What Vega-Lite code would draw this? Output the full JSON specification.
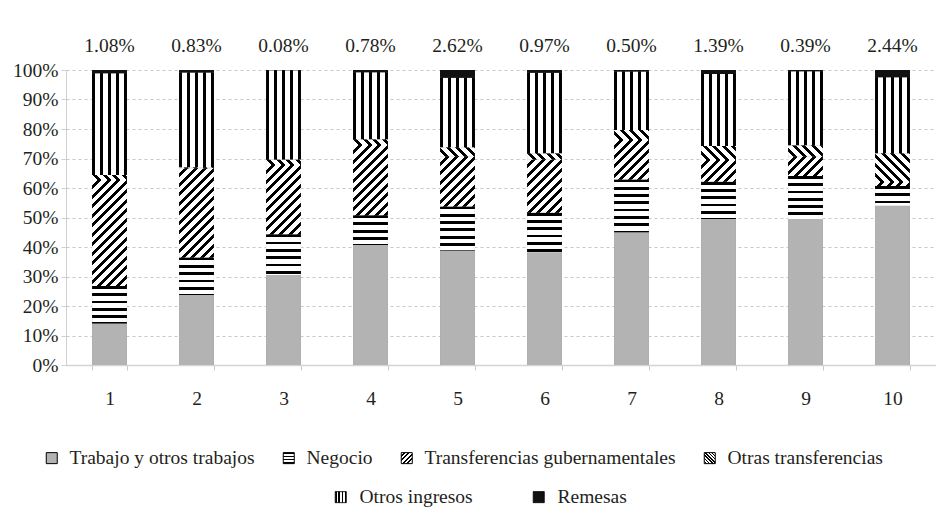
{
  "$schema": "https://vega.github.io/schema/vega-lite/v6.json",
  "width": 870,
  "height": 295,
  "autosize": {"type": "none"},
  "padding": {"left": 66, "top": 70, "right": 0, "bottom": 149},
  "background": "white",
  "config": {
    "font": "Liberation Serif",
    "view": {"stroke": null},
    "axis": {"labelFont": "Liberation Serif", "labelFontSize": 19.5, "labelColor": "#231f20", "title": null},
    "axisY": {"values": [0,0.1,0.2,0.3,0.4,0.5,0.6,0.7,0.8,0.9,1], "format": ".0%", "grid": true, "gridDash": [3,3], "gridColor": "#c8c8c8", "domainColor": "#d0d0d0", "tickColor": "#d0d0d0", "tickSize": 5, "labelPadding": 3},
    "legend": {"labelFont": "Liberation Serif", "labelFontSize": 19.5, "labelColor": "#231f20", "labelLimit": 500}
  },
  "params": [
    {"name": "sD", "value": [
      {"offset":0,"color":"#fff"},{"offset":0.03625,"color":"#fff"},{"offset":0.03625,"color":"#000"},{"offset":0.0625,"color":"#000"},
      {"offset":0.0625,"color":"#fff"},{"offset":0.09875,"color":"#fff"},{"offset":0.09875,"color":"#000"},{"offset":0.125,"color":"#000"},
      {"offset":0.125,"color":"#fff"},{"offset":0.16125,"color":"#fff"},{"offset":0.16125,"color":"#000"},{"offset":0.1875,"color":"#000"},
      {"offset":0.1875,"color":"#fff"},{"offset":0.22375,"color":"#fff"},{"offset":0.22375,"color":"#000"},{"offset":0.25,"color":"#000"},
      {"offset":0.25,"color":"#fff"},{"offset":0.28625,"color":"#fff"},{"offset":0.28625,"color":"#000"},{"offset":0.3125,"color":"#000"},
      {"offset":0.3125,"color":"#fff"},{"offset":0.34875,"color":"#fff"},{"offset":0.34875,"color":"#000"},{"offset":0.375,"color":"#000"},
      {"offset":0.375,"color":"#fff"},{"offset":0.41125,"color":"#fff"},{"offset":0.41125,"color":"#000"},{"offset":0.4375,"color":"#000"},
      {"offset":0.4375,"color":"#fff"},{"offset":0.47375,"color":"#fff"},{"offset":0.47375,"color":"#000"},{"offset":0.5,"color":"#000"},
      {"offset":0.5,"color":"#fff"},{"offset":0.53625,"color":"#fff"},{"offset":0.53625,"color":"#000"},{"offset":0.5625,"color":"#000"},
      {"offset":0.5625,"color":"#fff"},{"offset":0.59875,"color":"#fff"},{"offset":0.59875,"color":"#000"},{"offset":0.625,"color":"#000"},
      {"offset":0.625,"color":"#fff"},{"offset":0.66125,"color":"#fff"},{"offset":0.66125,"color":"#000"},{"offset":0.6875,"color":"#000"},
      {"offset":0.6875,"color":"#fff"},{"offset":0.72375,"color":"#fff"},{"offset":0.72375,"color":"#000"},{"offset":0.75,"color":"#000"},
      {"offset":0.75,"color":"#fff"},{"offset":0.78625,"color":"#fff"},{"offset":0.78625,"color":"#000"},{"offset":0.8125,"color":"#000"},
      {"offset":0.8125,"color":"#fff"},{"offset":0.84875,"color":"#fff"},{"offset":0.84875,"color":"#000"},{"offset":0.875,"color":"#000"},
      {"offset":0.875,"color":"#fff"},{"offset":0.91125,"color":"#fff"},{"offset":0.91125,"color":"#000"},{"offset":0.9375,"color":"#000"},
      {"offset":0.9375,"color":"#fff"},{"offset":0.97375,"color":"#fff"},{"offset":0.97375,"color":"#000"},{"offset":1,"color":"#000"}
    ]},
    {"name": "sH", "value": [
      {"offset":0,"color":"#000"},{"offset":0.04222,"color":"#000"},{"offset":0.04222,"color":"#fff"},{"offset":0.11111,"color":"#fff"},
      {"offset":0.11111,"color":"#000"},{"offset":0.15333,"color":"#000"},{"offset":0.15333,"color":"#fff"},{"offset":0.22222,"color":"#fff"},
      {"offset":0.22222,"color":"#000"},{"offset":0.26444,"color":"#000"},{"offset":0.26444,"color":"#fff"},{"offset":0.33333,"color":"#fff"},
      {"offset":0.33333,"color":"#000"},{"offset":0.37556,"color":"#000"},{"offset":0.37556,"color":"#fff"},{"offset":0.44444,"color":"#fff"},
      {"offset":0.44444,"color":"#000"},{"offset":0.48667,"color":"#000"},{"offset":0.48667,"color":"#fff"},{"offset":0.55556,"color":"#fff"},
      {"offset":0.55556,"color":"#000"},{"offset":0.59778,"color":"#000"},{"offset":0.59778,"color":"#fff"},{"offset":0.66667,"color":"#fff"},
      {"offset":0.66667,"color":"#000"},{"offset":0.70889,"color":"#000"},{"offset":0.70889,"color":"#fff"},{"offset":0.77778,"color":"#fff"},
      {"offset":0.77778,"color":"#000"},{"offset":0.82,"color":"#000"},{"offset":0.82,"color":"#fff"},{"offset":0.88889,"color":"#fff"},
      {"offset":0.88889,"color":"#000"},{"offset":0.93111,"color":"#000"},{"offset":0.93111,"color":"#fff"},{"offset":1,"color":"#fff"}
    ]},
    {"name": "sV", "value": [
      {"offset":0,"color":"#000"},{"offset":0.09,"color":"#000"},{"offset":0.09,"color":"#fff"},{"offset":0.2275,"color":"#fff"},
      {"offset":0.2275,"color":"#000"},{"offset":0.3175,"color":"#000"},{"offset":0.3175,"color":"#fff"},{"offset":0.455,"color":"#fff"},
      {"offset":0.455,"color":"#000"},{"offset":0.545,"color":"#000"},{"offset":0.545,"color":"#fff"},{"offset":0.6825,"color":"#fff"},
      {"offset":0.6825,"color":"#000"},{"offset":0.7725,"color":"#000"},{"offset":0.7725,"color":"#fff"},{"offset":0.91,"color":"#fff"},
      {"offset":0.91,"color":"#000"},{"offset":1,"color":"#000"}
    ]},
    {"name": "sLH", "value": [
      {"offset":0,"color":"#000"},{"offset":0.14,"color":"#000"},{"offset":0.14,"color":"#fff"},{"offset":0.3,"color":"#fff"},
      {"offset":0.3,"color":"#000"},{"offset":0.43,"color":"#000"},{"offset":0.43,"color":"#fff"},{"offset":0.57,"color":"#fff"},
      {"offset":0.57,"color":"#000"},{"offset":0.7,"color":"#000"},{"offset":0.7,"color":"#fff"},{"offset":0.86,"color":"#fff"},
      {"offset":0.86,"color":"#000"},{"offset":1,"color":"#000"}
    ]},
    {"name": "sLV", "value": [
      {"offset":0,"color":"#000"},{"offset":0.15,"color":"#000"},{"offset":0.15,"color":"#fff"},{"offset":0.29,"color":"#fff"},
      {"offset":0.29,"color":"#000"},{"offset":0.43,"color":"#000"},{"offset":0.43,"color":"#fff"},{"offset":0.57,"color":"#fff"},
      {"offset":0.57,"color":"#000"},{"offset":0.71,"color":"#000"},{"offset":0.71,"color":"#fff"},{"offset":0.85,"color":"#fff"},
      {"offset":0.85,"color":"#000"},{"offset":1,"color":"#000"}
    ]}
  ],
  "data": {"values": [
    {"decil": 1, "fuente": "Trabajo y otros trabajos", "valor": 0.141},
    {"decil": 1, "fuente": "Negocio", "valor": 0.127},
    {"decil": 1, "fuente": "Transferencias gubernamentales", "valor": 0.359},
    {"decil": 1, "fuente": "Otras transferencias", "valor": 0.017},
    {"decil": 1, "fuente": "Otros ingresos", "valor": 0.3452},
    {"decil": 1, "fuente": "Remesas", "valor": 0.0108},
    {"decil": 2, "fuente": "Trabajo y otros trabajos", "valor": 0.237},
    {"decil": 2, "fuente": "Negocio", "valor": 0.127},
    {"decil": 2, "fuente": "Transferencias gubernamentales", "valor": 0.303},
    {"decil": 2, "fuente": "Otras transferencias", "valor": 0.003},
    {"decil": 2, "fuente": "Otros ingresos", "valor": 0.3217},
    {"decil": 2, "fuente": "Remesas", "valor": 0.0083},
    {"decil": 3, "fuente": "Trabajo y otros trabajos", "valor": 0.305},
    {"decil": 3, "fuente": "Negocio", "valor": 0.138},
    {"decil": 3, "fuente": "Transferencias gubernamentales", "valor": 0.235},
    {"decil": 3, "fuente": "Otras transferencias", "valor": 0.019},
    {"decil": 3, "fuente": "Otros ingresos", "valor": 0.3022},
    {"decil": 3, "fuente": "Remesas", "valor": 0.0008},
    {"decil": 4, "fuente": "Trabajo y otros trabajos", "valor": 0.407},
    {"decil": 4, "fuente": "Negocio", "valor": 0.101},
    {"decil": 4, "fuente": "Transferencias gubernamentales", "valor": 0.238},
    {"decil": 4, "fuente": "Otras transferencias", "valor": 0.019},
    {"decil": 4, "fuente": "Otros ingresos", "valor": 0.2272},
    {"decil": 4, "fuente": "Remesas", "valor": 0.0078},
    {"decil": 5, "fuente": "Trabajo y otros trabajos", "valor": 0.388},
    {"decil": 5, "fuente": "Negocio", "valor": 0.149},
    {"decil": 5, "fuente": "Transferencias gubernamentales", "valor": 0.169},
    {"decil": 5, "fuente": "Otras transferencias", "valor": 0.032},
    {"decil": 5, "fuente": "Otros ingresos", "valor": 0.2358},
    {"decil": 5, "fuente": "Remesas", "valor": 0.0262},
    {"decil": 6, "fuente": "Trabajo y otros trabajos", "valor": 0.382},
    {"decil": 6, "fuente": "Negocio", "valor": 0.134},
    {"decil": 6, "fuente": "Transferencias gubernamentales", "valor": 0.181},
    {"decil": 6, "fuente": "Otras transferencias", "valor": 0.021},
    {"decil": 6, "fuente": "Otros ingresos", "valor": 0.2723},
    {"decil": 6, "fuente": "Remesas", "valor": 0.0097},
    {"decil": 7, "fuente": "Trabajo y otros trabajos", "valor": 0.450},
    {"decil": 7, "fuente": "Negocio", "valor": 0.179},
    {"decil": 7, "fuente": "Transferencias gubernamentales", "valor": 0.134},
    {"decil": 7, "fuente": "Otras transferencias", "valor": 0.034},
    {"decil": 7, "fuente": "Otros ingresos", "valor": 0.198},
    {"decil": 7, "fuente": "Remesas", "valor": 0.0050},
    {"decil": 8, "fuente": "Trabajo y otros trabajos", "valor": 0.495},
    {"decil": 8, "fuente": "Negocio", "valor": 0.126},
    {"decil": 8, "fuente": "Transferencias gubernamentales", "valor": 0.074},
    {"decil": 8, "fuente": "Otras transferencias", "valor": 0.047},
    {"decil": 8, "fuente": "Otros ingresos", "valor": 0.2441},
    {"decil": 8, "fuente": "Remesas", "valor": 0.0139},
    {"decil": 9, "fuente": "Trabajo y otros trabajos", "valor": 0.495},
    {"decil": 9, "fuente": "Negocio", "valor": 0.146},
    {"decil": 9, "fuente": "Transferencias gubernamentales", "valor": 0.065},
    {"decil": 9, "fuente": "Otras transferencias", "valor": 0.039},
    {"decil": 9, "fuente": "Otros ingresos", "valor": 0.2511},
    {"decil": 9, "fuente": "Remesas", "valor": 0.0039},
    {"decil": 10, "fuente": "Trabajo y otros trabajos", "valor": 0.540},
    {"decil": 10, "fuente": "Negocio", "valor": 0.067},
    {"decil": 10, "fuente": "Transferencias gubernamentales", "valor": 0.013},
    {"decil": 10, "fuente": "Otras transferencias", "valor": 0.098},
    {"decil": 10, "fuente": "Otros ingresos", "valor": 0.2576},
    {"decil": 10, "fuente": "Remesas", "valor": 0.0244}
  ]},
  "transform": [
    {"calculate": "indexof(['Trabajo y otros trabajos','Negocio','Transferencias gubernamentales','Otras transferencias','Otros ingresos','Remesas'], datum.fuente)", "as": "orden"},
    {"stack": "valor", "groupby": ["decil"], "sort": [{"field": "orden", "order": "ascending"}], "as": ["y0", "y1"]}
  ],
  "encoding": {
    "x": {
      "field": "decil", "type": "ordinal",
      "scale": {"paddingInner": 0.6, "paddingOuter": 0.3},
      "axis": {"labelAngle": 0, "grid": false, "domainColor": "#d4d4d4", "domainWidth": 1.5, "tickBand": "extent", "tickColor": "#c8c8c8", "tickSize": 5, "labelPadding": 19}
    }
  },
  "layer": [
    {
      "transform": [{"filter": "datum.orden < 4"}],
      "mark": {"type": "bar", "fill": "#888888", "strokeWidth": 0},
      "encoding": {
        "y": {"field": "y0", "type": "quantitative", "scale": {"domain": [0, 1], "nice": false}, "axis": {}},
        "y2": {"field": "y1"},
        "stroke": {"field": "fuente", "type": "nominal",
          "scale": {"domain": ["Trabajo y otros trabajos", "Negocio", "Transferencias gubernamentales", "Otras transferencias"], "range": ["#000000", "#000000", "#000000", "#000000"]},
          "legend": {"orient": "none", "legendX": -24, "legendY": 378, "direction": "horizontal", "title": null, "symbolType": "square", "symbolSize": 121, "labelOffset": 8, "columnPadding": 24,
            "encoding": {"symbols": {
              "fill": {"value": {"expr": "datum.value === 'Negocio' ? {gradient:'linear',x1:0,y1:0,x2:0,y2:1,stops:sLH} : datum.value === 'Transferencias gubernamentales' ? {gradient:'linear',x1:0,y1:0,x2:3.2,y2:3.2,stops:sD} : datum.value === 'Otras transferencias' ? {gradient:'linear',x1:0,y1:1,x2:2.3,y2:-1.3,stops:sD} : '#b3b3b3'"}},
              "stroke": {"value": {"expr": "datum.value === 'Trabajo y otros trabajos' ? 'transparent' : '#000'"}},
              "strokeWidth": {"value": 1},
              "opacity": {"value": 1}
            }}
          }
        }
      }
    },
    {
      "transform": [{"filter": "datum.orden >= 4"}],
      "mark": {"type": "bar", "fill": "#222222", "strokeWidth": 0},
      "encoding": {
        "y": {"field": "y0", "type": "quantitative", "scale": {"domain": [0, 1], "nice": false}, "axis": {}},
        "y2": {"field": "y1"},
        "strokeDash": {"field": "fuente", "type": "nominal",
          "scale": {"domain": ["Otros ingresos", "Remesas"], "range": [[1, 0], [1, 0]]},
          "legend": {"orient": "none", "legendX": 265, "legendY": 417, "direction": "horizontal", "title": null, "symbolType": "square", "symbolSize": 121, "labelOffset": 9, "columnPadding": 56,
            "encoding": {"symbols": {
              "fill": {"value": {"expr": "datum.value === 'Otros ingresos' ? {gradient:'linear',x1:0,y1:0,x2:1,y2:0,stops:sLV} : '#111111'"}},
              "stroke": {"value": "#000"},
              "strokeWidth": {"value": 1},
              "opacity": {"value": 1}
            }}
          }
        }
      }
    },
    {
      "mark": {"type": "bar", "fill": {"expr": "datum.fuente === 'Negocio' ? {gradient:'linear',x1:0,y1:0,x2:0,y2:65.7/max(1,(datum.y1-datum.y0)*295),stops:sH} : datum.fuente === 'Transferencias gubernamentales' ? {gradient:'linear',x1:0,y1:0,x2:5289.6/(1211+pow((datum.y1-datum.y0)*295,2)),y2:152*(datum.y1-datum.y0)*295/(1211+pow((datum.y1-datum.y0)*295,2)),stops:sD} : datum.fuente === 'Otras transferencias' ? {gradient:'linear',x1:0,y1:1,x2:5289.6/(1211+pow((datum.y1-datum.y0)*295,2)),y2:1-152*(datum.y1-datum.y0)*295/(1211+pow((datum.y1-datum.y0)*295,2)),stops:sD} : datum.fuente === 'Otros ingresos' ? {gradient:'linear',x1:0,y1:0,x2:1,y2:0,stops:sV} : datum.fuente === 'Remesas' ? '#111111' : '#b3b3b3'"}},
      "encoding": {
        "y": {"field": "y0", "type": "quantitative", "scale": {"domain": [0, 1], "nice": false}, "axis": {}},
        "y2": {"field": "y1"}
      }
    },
    {
      "transform": [{"filter": "datum.fuente === 'Remesas'"}],
      "mark": {"type": "text", "fontSize": 19.5, "font": "Liberation Serif", "color": "#231f20", "baseline": "middle"},
      "encoding": {
        "y": {"datum": 1.081, "type": "quantitative", "scale": {"domain": [0, 1], "nice": false}, "axis": {}},
        "text": {"field": "valor", "type": "quantitative", "format": ".2%"}
      }
    }
  ]
}
